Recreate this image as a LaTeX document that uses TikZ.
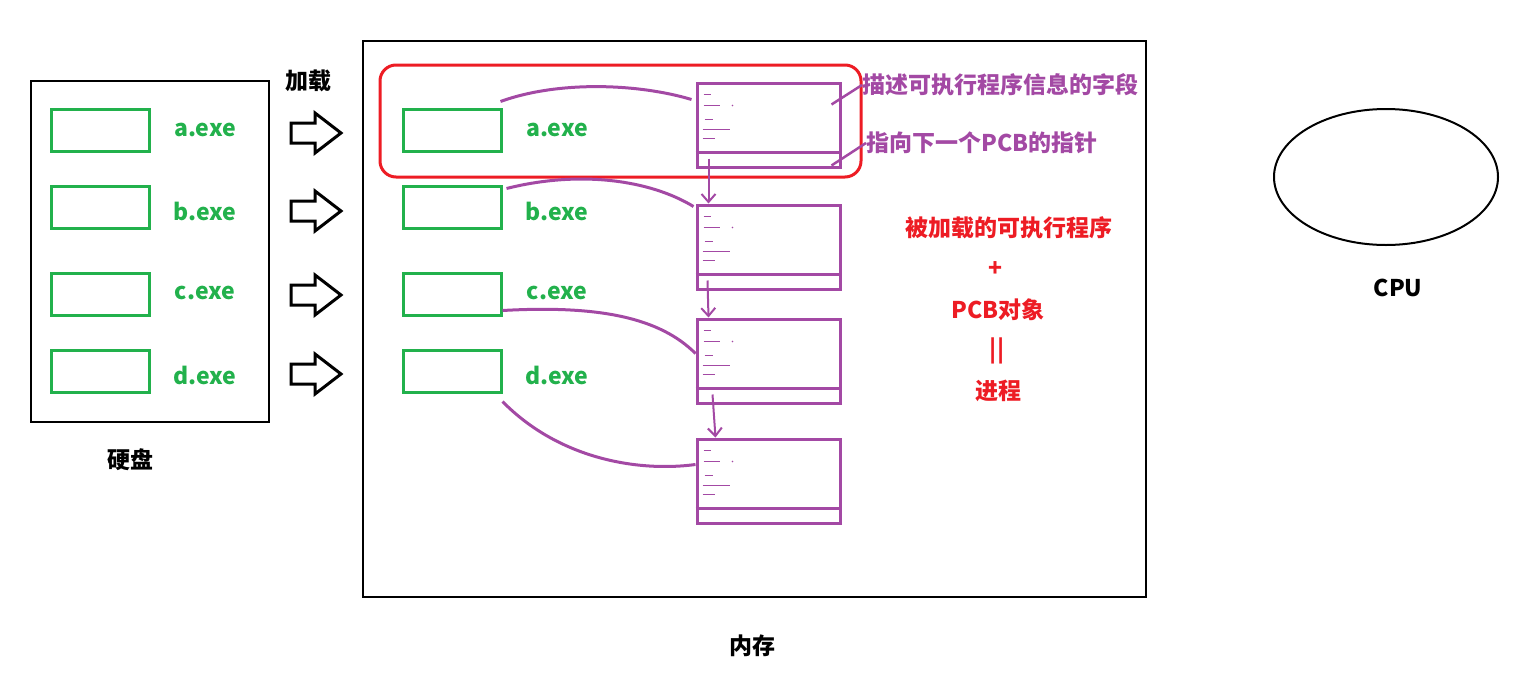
\documentclass[tikz,border=0pt]{standalone}
\usepackage{fontspec}
\setmainfont{Noto Sans CJK SC}
\usetikzlibrary{arrows.meta,shapes.geometric}
\definecolor{pgreen}{RGB}{34,177,76}
\definecolor{ppurple}{RGB}{163,73,164}
\definecolor{pred}{RGB}{237,28,36}
\begin{document}
\begin{tikzpicture}[x=1pt,y=-1pt,
  txt/.style={font=\fontsize{23}{26}\selectfont\bfseries, inner sep=0pt},
  gbox/.style={draw=pgreen, line width=3pt, minimum width=98pt, minimum height=42pt, inner sep=0pt},
  gtxt/.style={txt, text=pgreen},
  pcb/.style={draw=ppurple, line width=3pt, minimum width=143pt, minimum height=84pt, inner sep=0pt},
  plink/.style={draw=ppurple, line width=3pt},
  pnext/.style={draw=ppurple, line width=2pt, -{Straight Barb[length=8pt,width=14pt]}},
  scrib/.style={draw=ppurple, line width=1pt},
  frame/.style={draw=black, line width=2.5pt},
  blockarrow/.style={draw=black, line width=3pt, line join=miter}]
\useasboundingbox (0,0) rectangle (1526,691);

% disk
\node[frame, minimum width=238pt, minimum height=341pt, inner sep=0pt] (disk) at (150,251.5) {};
\node[txt] (disklbl) at (130,460) {硬盘};
\foreach \n/\y/\ly/\l in {a/130/130/a.exe, b/207/211/b.exe, c/294/293/c.exe, d/371/375/d.exe}{
  \node[gbox] (d\n) at (100,\y) {};
  \node[gtxt] (dl\n) at (205,\ly) {\l};
}

% load arrows
\node[txt] (load) at (308,81) {加载};
\foreach \yc in {133,211,295,374}{
  \draw[blockarrow] (291,\yc-10) -- (315,\yc-10) -- (315,\yc-20) -- (341,\yc) -- (315,\yc+20) -- (315,\yc+10) -- (291,\yc+10) -- cycle;
}

% memory
\node[frame, minimum width=783pt, minimum height=556pt, inner sep=0pt] (mem) at (754.5,319) {};
\node[txt] (memlbl) at (752,646) {内存};
\foreach \n/\y/\ly/\l in {a/130/130/a.exe, b/207/211/b.exe, c/294/293/c.exe, d/371/375/d.exe}{
  \node[gbox] (m\n) at (452,\y) {};
  \node[gtxt] (ml\n) at (557,\ly) {\l};
}

% red highlight
\draw[pred, line width=3pt, rounded corners=16pt] (380,65) rectangle (861,177);

% PCBs
\foreach \n/\y in {1/125,2/247,3/361,4/481}{
  \node[pcb] (p\n) at (768.5,\y) {};
  \draw[ppurple, line width=3pt] ([yshift=16pt]p\n.south west) -- ([yshift=16pt]p\n.south east);
  \draw[scrib] ([shift={(8,13)}]p\n.north west) -- ++(7,0);
  \draw[scrib] ([shift={(8,24)}]p\n.north west) -- ++(16,0);
  \fill[ppurple] ([shift={(37,24)}]p\n.north west) circle (0.8pt);
  \draw[scrib] ([shift={(9,38)}]p\n.north west) -- ++(8,0);
  \draw[scrib] ([shift={(7,48)}]p\n.north west) -- ++(27,0);
  \draw[scrib] ([shift={(7,57)}]p\n.north west) -- ++(12,0);
}
\draw[pnext] ([shift={(13,-10)}]p1.south west) -- ([shift={(13,0)}]p2.north west);
\draw[pnext] ([shift={(12,-10)}]p2.south west) -- ([shift={(13,0)}]p3.north west);
\draw[pnext] ([shift={(17,-10)}]p3.south west) -- ([shift={(20,0)}]p4.north west);

% links from programs to PCBs
\draw[plink] ([shift={(-2,-6)}]ma.north east) .. controls (560,80) and (640,84) .. ([shift={(-4,18)}]p1.north west);
\draw[plink] ([shift={(4,4)}]mb.north east) .. controls (580,170) and (650,180) .. ([shift={(-2,3)}]p2.north west);
\draw[plink] ([shift={(0,-6)}]mc.south east) .. controls (600,305) and (660,318) .. ([shift={(0,36)}]p3.north west);
\draw[plink] ([shift={(0,8)}]md.south east) .. controls (560,460) and (640,472) .. ([shift={(0,27)}]p4.north west);

% annotations
\node[txt, text=ppurple, anchor=west] (ann1) at (862,85) {描述可执行程序信息的字段};
\node[txt, text=ppurple, anchor=west] (ann2) at (866,143) {指向下一个PCB的指针};
\draw[plink, line width=2.5pt] ([shift={(-10,23)}]p1.north east) -- (ann1.west);
\draw[plink, line width=2.5pt] ([shift={(-10,-3)}]p1.south east) -- ([yshift=0pt]ann2.west);

% red explanation
\node[txt, text=pred] (e1) at (1009,228) {被加载的可执行程序};
\node[txt, text=pred] (e2) at (995,269) {+};
\node[txt, text=pred] (e3) at (998,310) {PCB对象};
\node[txt, text=pred] (e4) at (997,351) {||};
\node[txt, text=pred] (e5) at (998,391) {进程};

% CPU
\node[draw, ellipse, line width=2pt, minimum width=224pt, minimum height=136pt] (cpu) at (1386,177) {};
\node[txt] (cpulbl) at (1398,288) {CPU};
\end{tikzpicture}
\end{document}
